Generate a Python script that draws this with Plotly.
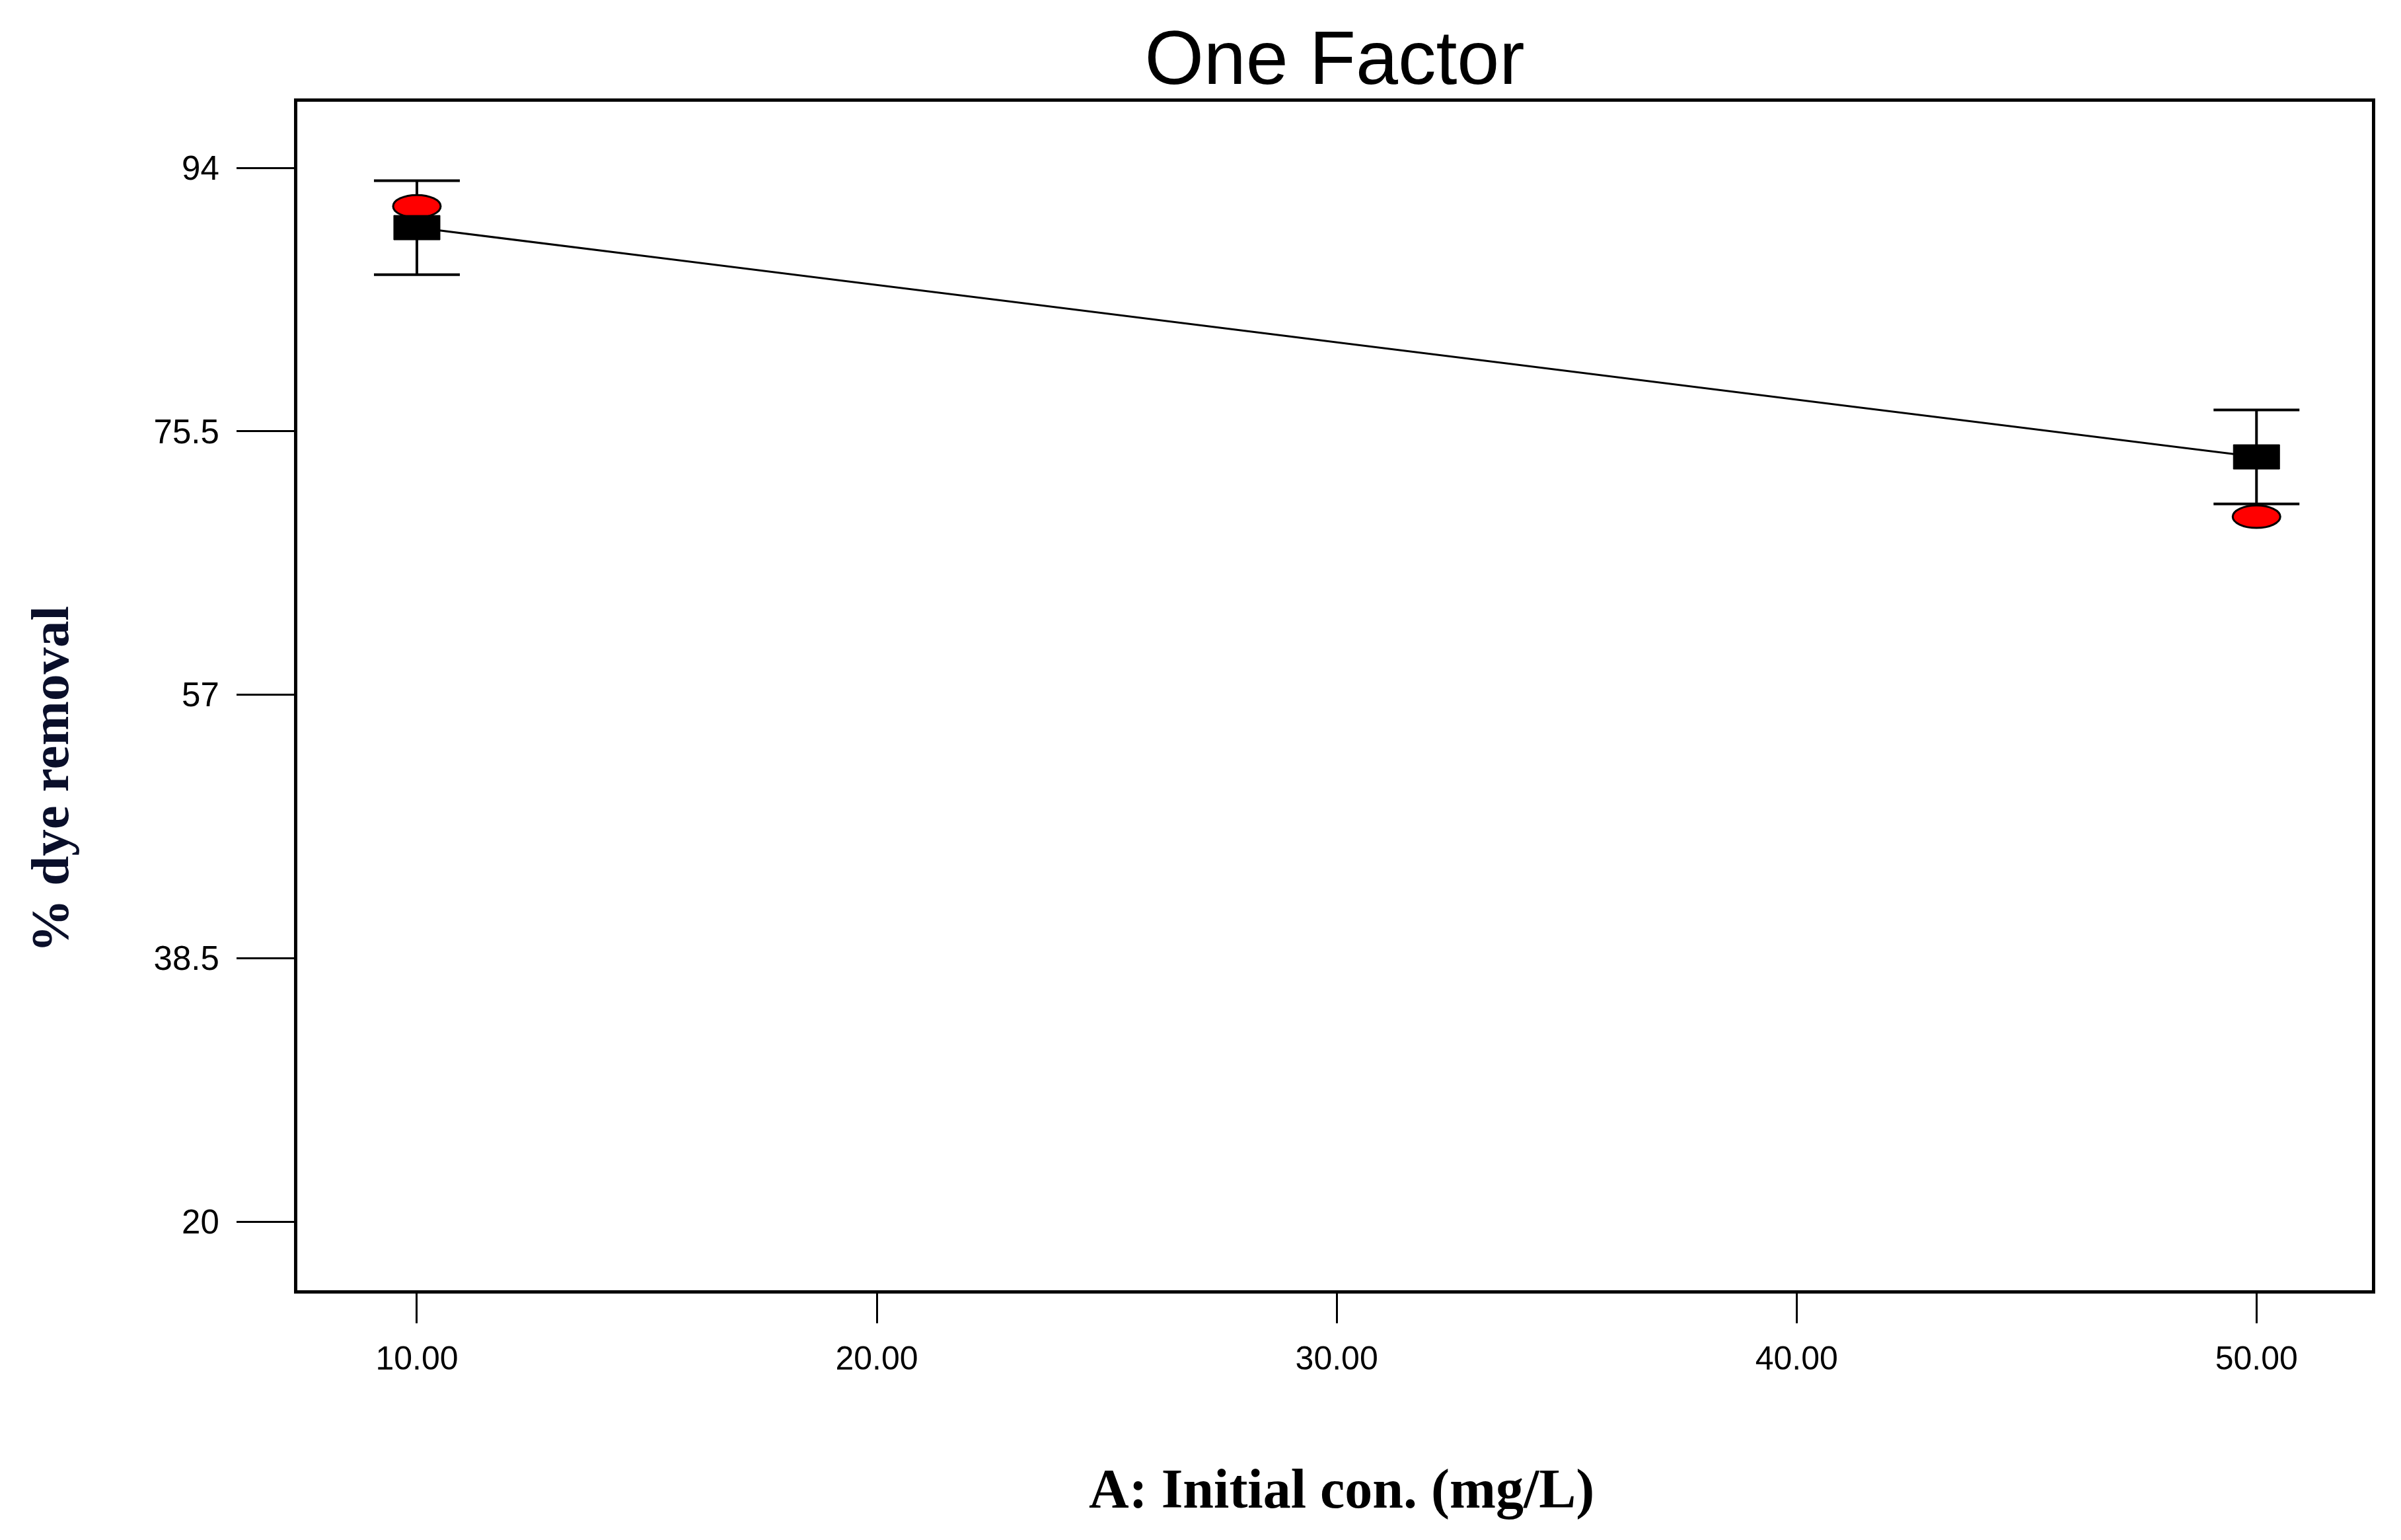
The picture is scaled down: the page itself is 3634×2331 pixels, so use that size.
import plotly.graph_objects as go

# Data
conc = [10.0, 50.0]                 # A: Initial con. (mg/L)
predicted = [89.8, 73.7]            # model prediction (% dye removal)
ci_half = [3.3, 3.3]                # confidence half-interval
actual = [91.3, 69.5]               # observed design points

x_ticks = [10, 20, 30, 40, 50]
x_tick_labels = ["10.00", "20.00", "30.00", "40.00", "50.00"]
y_ticks = [20, 38.5, 57, 75.5, 94]
y_tick_labels = ["20", "38.5", "57", "75.5", "94"]

# page body has an 8px default margin; compensate so the plot lands where the reference has it
PAGE_OFF = 8
W, H = 3634 - 2 * PAGE_OFF, 2331 - 2 * PAGE_OFF
L, T = 450 - PAGE_OFF, 154 - PAGE_OFF
PW, PH = 3140, 1799

fig = go.Figure()

fig.add_trace(go.Scatter(
    x=conc, y=predicted, mode="lines",
    line=dict(color="black", width=3),
    error_y=dict(type="data", array=ci_half, visible=True,
                 color="black", thickness=4, width=65),
    showlegend=False, hoverinfo="x+y",
))

shapes = []
for xv, yv in zip(conc, actual):
    shapes.append(dict(type="circle", xref="x", yref="y",
                       xsizemode="pixel", ysizemode="pixel",
                       xanchor=xv, yanchor=yv,
                       x0=-36, x1=36, y0=-17, y1=17,
                       fillcolor="#FF0000", line=dict(color="black", width=3),
                       layer="above"))
for xv, yv in zip(conc, predicted):
    shapes.append(dict(type="rect", xref="x", yref="y",
                       xsizemode="pixel", ysizemode="pixel",
                       xanchor=xv, yanchor=yv,
                       x0=-35, x1=35, y0=-18.5, y1=18.5,
                       fillcolor="black", line=dict(color="black", width=1),
                       layer="above"))

fig.update_layout(
    width=W, height=H,
    margin=dict(l=L, r=W - L - PW, t=T, b=H - T - PH),
    paper_bgcolor="white", plot_bgcolor="white",
    shapes=shapes,
    title=dict(text="One Factor", x=0.5, xref="paper", xanchor="center",
               y=1 - (87 - PAGE_OFF) / H, yref="container", yanchor="middle",
               font=dict(family="Liberation Sans, Arial", size=115, color="black")),
    font=dict(family="Liberation Sans, Arial", color="black"),
    annotations=[
        dict(text="<b>A: Initial con. (mg/L)</b>", xref="paper", yref="paper",
             x=(2030 - 450) / PW, y=-(2254 - 1953) / PH,
             xanchor="center", yanchor="middle", showarrow=False,
             font=dict(family="Liberation Serif, Times New Roman", size=84, color="black")),
        dict(text="<b>% dye removal</b>", xref="paper", yref="paper",
             x=(76 - 450) / PW, y=1 - (1180 - 154) / PH,
             xanchor="center", yanchor="middle", showarrow=False, textangle=-90,
             font=dict(family="Liberation Serif, Times New Roman", size=81, color="#0a0f2a")),
    ],
)

fig.update_xaxes(
    range=[7.40, 52.51], tickvals=x_ticks, ticktext=x_tick_labels,
    ticks="outside", ticklen=45, tickwidth=3, tickcolor="black",
    showline=True, linecolor="black", linewidth=5, mirror=True,
    showgrid=False, zeroline=False,
    tickfont=dict(family="Liberation Sans, Arial", size=50, color="black"),
    ticklabelstandoff=10,
)
fig.update_yaxes(
    range=[15.18, 98.64], tickvals=y_ticks, ticktext=y_tick_labels,
    ticks="outside", ticklen=87, tickwidth=3, tickcolor="black",
    showline=True, linecolor="black", linewidth=5, mirror=True,
    showgrid=False, zeroline=False,
    tickfont=dict(family="Liberation Sans, Arial", size=51, color="black"),
    ticklabelstandoff=16,
)

fig.write_html("out.html")
